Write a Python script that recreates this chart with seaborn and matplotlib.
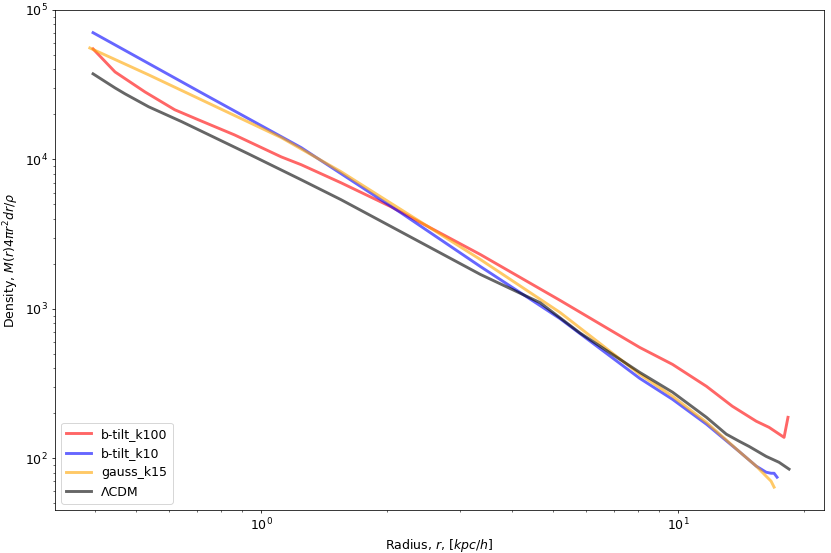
import numpy as np
import pandas as pd
import seaborn as sns
import matplotlib
matplotlib.use('Agg')
import matplotlib.pyplot as plt

# radius / density profiles
r_k100 = [0.395, 0.446, 0.526, 0.620, 0.707, 0.862, 1.116, 1.246, 1.552, 2.043,
          3.350, 5.200, 8.071, 9.676, 11.67, 13.46, 15.36, 16.49, 17.91, 18.30]
d_k100 = [54900, 38500, 28300, 21500, 18400, 14600, 10400, 9220, 6980, 4830,
          2310, 1140, 552, 425, 303, 223, 177, 161, 138, 188]

r_k10 = [0.395, 0.719, 1.246, 2.159, 3.350, 5.200, 8.071, 9.676, 11.67, 13.98,
         15.36, 16.22, 16.67, 16.95, 17.23]
d_k10 = [70500, 27900, 12000, 4400, 1920, 860, 343, 248, 169, 111,
         88.6, 80.7, 79.4, 79.4, 74.7]

r_gauss = [0.388, 0.537, 1.116, 1.552, 2.043, 3.350, 5.200, 8.071, 9.676, 11.67,
           13.98, 15.36, 16.22, 16.67, 16.95]
d_gauss = [55700, 36800, 14000, 8280, 5100, 2140, 946, 365, 260, 174,
           111, 88.6, 75.9, 70.3, 64.1]

r_lcdm = [0.395, 0.446, 0.471, 0.537, 0.644, 0.931, 1.246, 1.552, 3.350, 4.659,
          5.804, 8.071, 9.676, 11.67, 13.02, 13.98, 14.77, 16.22, 17.42, 18.41]
d_lcdm = [37400, 30100, 27500, 22500, 17900, 10900, 7310, 5380, 1700, 1100,
          690, 376, 277, 188, 145, 130, 120, 103, 94, 84.6]

series = [
    ('b-tilt_k100', r_k100, d_k100, 'red'),
    ('b-tilt_k10', r_k10, d_k10, 'blue'),
    ('gauss_k15', r_gauss, d_gauss, 'orange'),
    ('ΛCDM', r_lcdm, d_lcdm, 'black'),
]

plt.rcParams['font.size'] = 13

fig, ax = plt.subplots(figsize=(12, 553 / 69.25), dpi=69.25)
fig.subplots_adjust(left=0.066, right=0.9916, top=0.982, bottom=0.078)

for name, r, d, c in series:
    sns.lineplot(x=r, y=d, color=c, alpha=0.6, lw=3, label=name, ax=ax)

ax.set_xscale('log')
ax.set_yscale('log')
ax.set_xlabel(r'Radius, $r$, [$kpc/h$]')
ax.set_ylabel(r'Density, $M(r)4\pi r^2dr/\rho$')
ax.legend(loc='lower left')

plt.savefig('out.png', dpi=69.25)
